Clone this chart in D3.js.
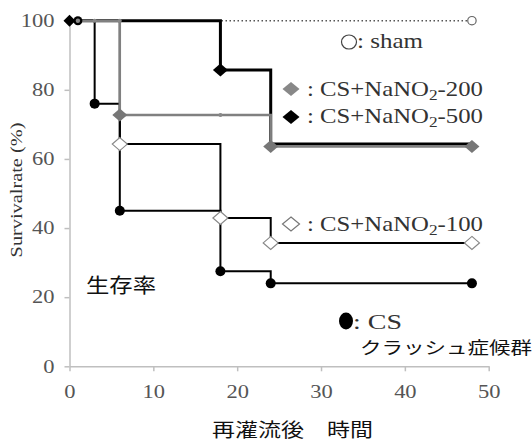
<!DOCTYPE html>
<html><head><meta charset="utf-8">
<script src="https://cdn.jsdelivr.net/npm/d3@7"></script>
</head><body style="margin:0">
<svg id="c" width="532" height="444"></svg>
<script>
const xTicks = [0,10,20,30,40,50];
const yTicks = [0,20,40,60,80,100];
const shamT = [0,48], shamV = [100,100];
const csT = [0,3,6,18,24,48], csV = [100,76,45,27.5,24,24];
const n100T = [0,6,18,24,48], n100V = [100,64.3,42.9,35.7,35.7];
const n200T = [0,6,24,48], n200V = [100,72.7,63.6,63.6];
const n500T = [0,18,24,48], n500V = [100,85.7,64.3,64.3];
const censorT = [3,6,18], censorV = [100,100,72.7];

const SF = 'Liberation Serif';
const JP = 'Noto Sans CJK JP';
const svg = d3.select('#c');
const x = d3.scaleLinear().domain([0,50]).range([69.5,488.7]);
const y = d3.scaleLinear().domain([0,100]).range([366.3,20.7]);
const axisCol = '#bfbfbf';
const K = 1.25;

const gx = svg.append('g').attr('transform',`translate(0,${y(0)})`)
  .call(d3.axisBottom(x).tickValues(xTicks).tickSize(5).tickPadding(10).tickSizeOuter(0));
const gy = svg.append('g').attr('transform',`translate(${x(0)},0)`)
  .call(d3.axisLeft(y).tickValues(yTicks).tickSize(5).tickPadding(10).tickSizeOuter(0));
[gx,gy].forEach(g=>{
  g.attr('font-family',SF).attr('font-size',18);
  g.select('.domain').attr('stroke',axisCol).attr('stroke-width',1.5);
  g.selectAll('.tick line').attr('stroke',axisCol).attr('stroke-width',1.5);
  g.selectAll('.tick text').attr('fill','#555').attr('font-family',SF).style('font-family',`"${SF}"`).style('font-size','18px');
});
gx.selectAll('.tick text').attr('dy','0.95em').attr('transform',`scale(${K},1)`);
gy.selectAll('.tick text').attr('x',-15/K).attr('transform',`scale(${K},1)`);

const zip = (t,v)=>t.map((d,i)=>[d,v[i]]);
const line = d3.line().x(d=>x(d[0])).y(d=>y(d[1])).curve(d3.curveStepAfter);

svg.append('path').datum(zip(shamT,shamV)).attr('d',line).attr('fill','none')
  .attr('stroke','#555').attr('stroke-width',1.5).attr('stroke-dasharray','1.5,2.5');
svg.append('path').datum(zip(csT,csV)).attr('d',line).attr('fill','none').attr('stroke','#000').attr('stroke-width',2);
svg.append('path').datum(zip(n100T,n100V)).attr('d',line).attr('fill','none').attr('stroke','#000').attr('stroke-width',2);
svg.append('path').datum(zip(n500T,n500V)).attr('d',line).attr('fill','none').attr('stroke','#000').attr('stroke-width',3);
svg.append('path').datum(zip(n200T,n200V)).attr('d',line).attr('fill','none').attr('stroke','#808080').attr('stroke-width',2.5);

const diamond = (sx,sy)=>`M0,${-sy}L${sx},0L0,${sy}L${-sx},0Z`;
svg.selectAll('.cen').data(zip(censorT,censorV)).join('circle')
  .attr('cx',d=>x(d[0])).attr('cy',d=>y(d[1])).attr('r',2).attr('fill','#888');
svg.selectAll('.m100').data(zip(n100T,n100V).slice(1)).join('path')
  .attr('d',diamond(7.5,6.5)).attr('transform',d=>`translate(${x(d[0])},${y(d[1])})`)
  .attr('fill','#fff').attr('stroke','#888').attr('stroke-width',1.2);
svg.selectAll('.mcs').data(zip(csT,csV).slice(1)).join('circle')
  .attr('cx',d=>x(d[0])).attr('cy',d=>y(d[1])).attr('r',5).attr('fill','#000');
svg.selectAll('.m500').data(zip(n500T,n500V).slice(1,2)).join('path')
  .attr('d',diamond(7.5,6.5)).attr('transform',d=>`translate(${x(d[0])},${y(d[1])})`).attr('fill','#000');
svg.selectAll('.m200').data(zip(n200T,n200V).slice(1)).join('path')
  .attr('d',diamond(7.5,6.5)).attr('transform',d=>`translate(${x(d[0])},${y(d[1])})`).attr('fill','#777');
svg.append('path').attr('d',diamond(6,6)).attr('transform',`translate(${x(0)},${y(100)})`).attr('fill','#000');
svg.append('circle').attr('cx',x(1)).attr('cy',y(100)).attr('r',4.5).attr('fill','#000');
svg.append('circle').attr('cx',x(1)).attr('cy',y(100)).attr('r',2.2).attr('fill','#888');
svg.append('circle').attr('cx',x(48)).attr('cy',y(100)).attr('r',4.2).attr('fill','#fff').attr('stroke','#666').attr('stroke-width',1.2);

function fit(t,px,py,len){
  const w = t.node().getComputedTextLength();
  const k = len / w;
  t.attr('transform',`translate(${px},${py}) scale(${k},1)`);
}
function leg(px,py,len,txt,sub,tail,size){
  const t = svg.append('text').attr('font-family',SF).style('font-family',`"${SF}"`).style('font-size',(size||20)+'px').attr('fill','#333');
  t.append('tspan').text(txt);
  if(sub){ t.append('tspan').attr('dy',4).style('font-size','14px').text(sub);
    t.append('tspan').attr('dy',-4).text(tail); }
  fit(t,px,py,len);
}
svg.append('ellipse').attr('cx',349).attr('cy',42).attr('rx',7.5).attr('ry',7).attr('fill','#fff').attr('stroke','#444').attr('stroke-width',1.2);
leg(357,48,66,': sham');
svg.append('path').attr('d',diamond(8.5,7)).attr('transform','translate(291,89)').attr('fill','#888');
leg(307,96,176,': CS+NaNO','2','-200');
svg.append('path').attr('d',diamond(8.5,7)).attr('transform','translate(291,117)').attr('fill','#000');
leg(307,123,176,': CS+NaNO','2','-500');
svg.append('path').attr('d',diamond(8.5,7)).attr('transform','translate(291,224)').attr('fill','#fff').attr('stroke','#777').attr('stroke-width',1.2);
leg(307,231,176,': CS+NaNO','2','-100');
svg.append('ellipse').attr('cx',346).attr('cy',321).attr('rx',7).attr('ry',8.5).attr('fill','#000');
leg(353,329,49,': CS',null,null,21);

function jtext(px,py,len,size,s){
  const t = svg.append('text').attr('font-family',JP).style('font-family',`"${JP}"`).style('font-size',size+'px').attr('fill','#111').text(s);
  fit(t,px,py,len);
}
jtext(360,354,172,17,'クラッシュ症候群');
jtext(86,293,70,20,'生存率');
jtext(212,437,161,19,'再灌流後　時間');

const yl = svg.append('text').attr('text-anchor','middle').attr('font-family',SF).style('font-family',`"${SF}"`).style('font-size','16px').attr('fill','#333').text('Survivalrate (%)');
const ylw = yl.node().getComputedTextLength();
yl.attr('transform',`translate(22,190) rotate(-90) scale(${135/ylw},1)`);
</script>
</body></html>
